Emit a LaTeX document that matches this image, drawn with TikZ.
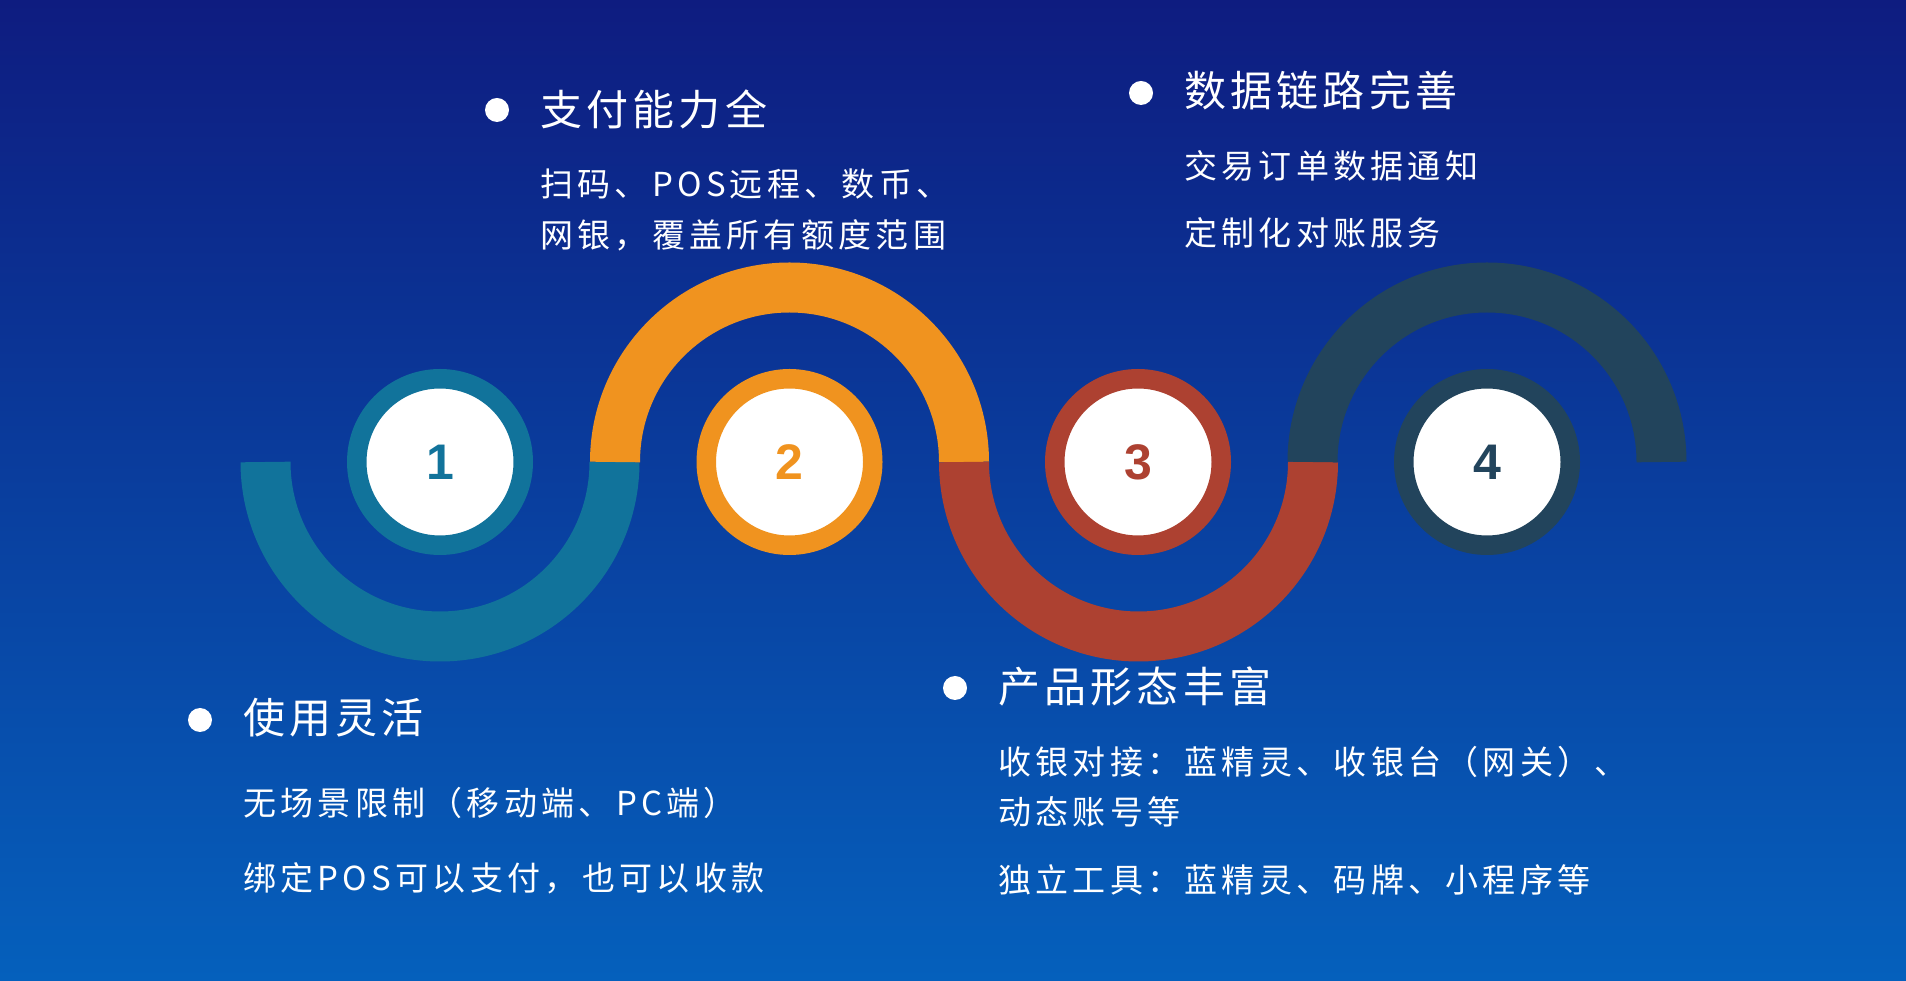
\documentclass[tikz,border=0pt]{standalone}
\usepackage{fontspec}
\setmainfont{Noto Sans CJK SC}
\newfontfamily\numfont{Liberation Sans}
\definecolor{bgtop}{HTML}{0E1C80}
\definecolor{bgmid}{HTML}{083C9E}
\definecolor{bgbot}{HTML}{0560BC}
\definecolor{cteal}{HTML}{11739B}
\definecolor{corange}{HTML}{F0931F}
\definecolor{cred}{HTML}{AD4131}
\definecolor{cslate}{HTML}{22445C}
\tikzset{
  ttl/.style={anchor=base west,inner sep=0pt,text=white,font=\fontsize{42}{50}\selectfont\addfontfeatures{LetterSpace=10}},
  txt/.style={anchor=base west,inner sep=0pt,text=white,font=\fontsize{33}{40}\selectfont\addfontfeatures{LetterSpace=13}},
  bulletdot/.style={circle,fill=white,inner sep=0pt,minimum size=24pt},
  ring/.style={circle,draw=#1,line width=19.5pt,fill=white,minimum size=166.5pt,inner sep=0pt,text=#1,font=\numfont\bfseries\fontsize{50}{50}\selectfont}
}
\begin{document}
\begin{tikzpicture}[x=1pt,y=1pt]
  \shade[top color=bgtop,middle color=bgmid,bottom color=bgbot] (0,0) rectangle (1906,980);
  \useasboundingbox (0,0) rectangle (1906,980);
  % wave
  \draw[cteal,line width=50pt] (265.5,518) arc (180:360:174.5);
  \draw[corange,line width=50pt] (615,518) arc (180:0:174.5);
  \draw[cred,line width=50pt] (964,518) arc (180:360:174.5);
  \draw[cslate,line width=50pt] (1312.5,518) arc (180:0:174.5);
  \foreach \n/\x/\c in {1/440/cteal,2/789.5/corange,3/1138/cred,4/1487/cslate}{\node[ring=\c] (n\n) at (\x,518) {\n};}
  % block 1
  \node[bulletdot] (b1) at (200,260) {};
  \node[ttl] (t1) at (243,246.5) {使用灵活};
  \node[txt] (t1a) at (243,164.8) {无场景限制（移动端、PC端）};
  \node[txt] (t1b) at (243,89.8) {绑定POS可以支付，也可以收款};
  % block 2
  \node[bulletdot] (b2) at (497,870) {};
  \node[ttl] (t2) at (540,854.5) {支付能力全};
  \node[txt] (t2a) at (540,783.8) {扫码、POS远程、数币、};
  \node[txt] (t2b) at (540,732.8) {网银，覆盖所有额度范围};
  % block 3
  \node[bulletdot] (b3) at (1141,887) {};
  \node[ttl] (t3) at (1184,873.5) {数据链路完善};
  \node[txt] (t3a) at (1184,801.8) {交易订单数据通知};
  \node[txt] (t3b) at (1184,734.8) {定制化对账服务};
  % block 4
  \node[bulletdot] (b4) at (955,292) {};
  \node[ttl] (t4) at (998,277.5) {产品形态丰富};
  \node[txt] (t4a) at (998,205.8) {收银对接：蓝精灵、收银台（网关）、};
  \node[txt] (t4b) at (998,155.8) {动态账号等};
  \node[txt] (t4c) at (998,87.8) {独立工具：蓝精灵、码牌、小程序等};
\end{tikzpicture}
\end{document}
